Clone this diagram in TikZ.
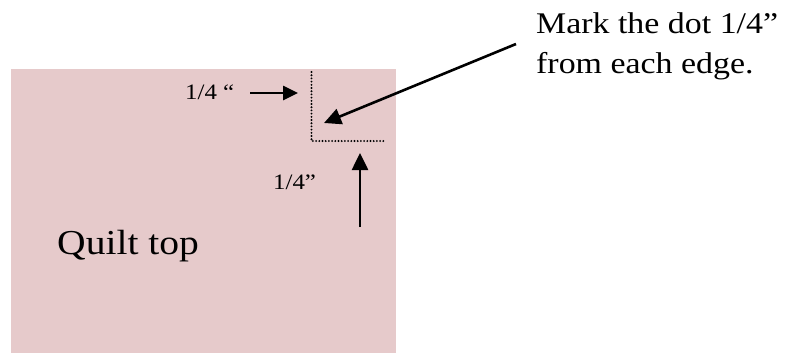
\documentclass[tikz,border=0pt]{standalone}
\usepackage{fontspec}
\newfontfamily\qfont[FakeStretch=1.13]{Liberation Serif}
\usetikzlibrary{arrows.meta}
\definecolor{quiltpink}{RGB}{230,202,203}
\begin{document}
\begin{tikzpicture}[x=1pt,y=-1pt,
  bigarrow/.style={line width=2.6pt,-{Triangle[length=17pt,width=16pt]}},
  smallarrow/.style={line width=2.6pt,-{Triangle[length=15pt,width=14pt]}},
  dotline/.style={line width=2.1pt,line cap=round,dash pattern=on 0pt off 3.2pt},
  lbl/.style={inner sep=0pt,anchor=base west}]
\useasboundingbox (0,0) rectangle (787,354);
\fill[quiltpink] (11,69) rectangle (396,353);
% dotted corner
\coordinate (dtop) at (311.5,72);
\coordinate (dcorner) at (311.5,141);
\coordinate (dright) at (385,141);
\draw[dotline] (dtop) -- (dcorner) -- (dright);
% texts
\node[lbl,font=\qfont\fontsize{30}{36}\selectfont] (mark1) at (536,33) {Mark the dot 1/4”};
\node[lbl,font=\qfont\fontsize{30}{36}\selectfont] (mark2) at (536,73) {from each edge.};
\node[lbl,font=\qfont\fontsize{22}{28}\selectfont] (lblA) at (185,99) {1/4 “};
\node[lbl,font=\qfont\fontsize{22}{28}\selectfont] (lblB) at (273,189) {1/4”};
\node[lbl,font=\qfont\fontsize{35}{40}\selectfont] (quilt) at (57,254) {Quilt top};
% arrows
\coordinate (a1s) at (250,93);
\coordinate (a1e) at (298,93);
\draw[smallarrow] (a1s) -- (a1e);
\coordinate (a2s) at (516,44);
\coordinate (a2e) at (324,123);
\draw[bigarrow] (a2s) -- (a2e);
\coordinate (a3s) at (360,227);
\coordinate (a3e) at (360,153);
\draw[bigarrow] (a3s) -- (a3e);
\end{tikzpicture}
\end{document}
